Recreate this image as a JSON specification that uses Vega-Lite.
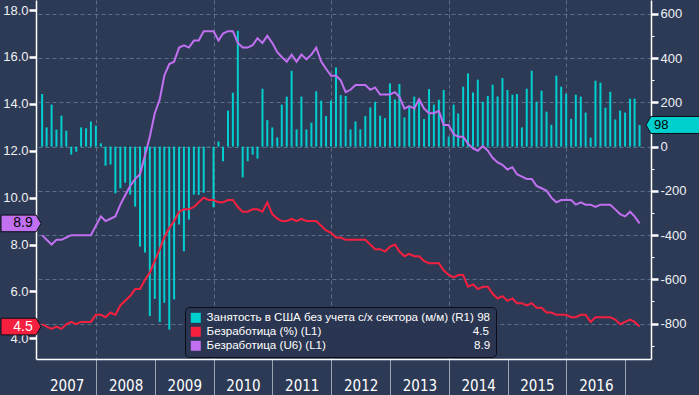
{
  "$schema": "https://vega.github.io/schema/vega-lite/v6.json",
  "width": 615,
  "height": 359,
  "autosize": {"type": "none"},
  "padding": {"left": 36, "top": 0, "right": 48, "bottom": 36},
  "background": "#2d3a55",
  "config": {
    "view": {"stroke": null},
    "axis": {"labelFont": "Liberation Sans", "labelFontSize": 13, "labelColor": "#eef0f4", "tickColor": "#ffffff", "domainColor": "#ffffff", "domainWidth": 1.5, "labelOverlap": false, "title": null}
  },
  "datasets": {
    "m": [
      {"date":"2007-01-31","nfp":238,"u3":4.6,"u6":8.4},
      {"date":"2007-02-28","nfp":87,"u3":4.5,"u6":8.2},
      {"date":"2007-03-31","nfp":190,"u3":4.4,"u6":8.0},
      {"date":"2007-04-30","nfp":77,"u3":4.5,"u6":8.2},
      {"date":"2007-05-31","nfp":140,"u3":4.4,"u6":8.2},
      {"date":"2007-06-30","nfp":72,"u3":4.6,"u6":8.3},
      {"date":"2007-07-31","nfp":-36,"u3":4.7,"u6":8.4},
      {"date":"2007-08-31","nfp":-23,"u3":4.6,"u6":8.4},
      {"date":"2007-09-30","nfp":87,"u3":4.7,"u6":8.4},
      {"date":"2007-10-31","nfp":83,"u3":4.7,"u6":8.4},
      {"date":"2007-11-30","nfp":114,"u3":4.7,"u6":8.4},
      {"date":"2007-12-31","nfp":95,"u3":5.0,"u6":8.8},
      {"date":"2008-01-31","nfp":15,"u3":5.0,"u6":9.2},
      {"date":"2008-02-29","nfp":-86,"u3":4.9,"u6":9.0},
      {"date":"2008-03-31","nfp":-81,"u3":5.1,"u6":9.1},
      {"date":"2008-04-30","nfp":-211,"u3":5.0,"u6":9.2},
      {"date":"2008-05-31","nfp":-188,"u3":5.4,"u6":9.7},
      {"date":"2008-06-30","nfp":-163,"u3":5.6,"u6":10.1},
      {"date":"2008-07-31","nfp":-217,"u3":5.8,"u6":10.5},
      {"date":"2008-08-31","nfp":-271,"u3":6.1,"u6":10.8},
      {"date":"2008-09-30","nfp":-452,"u3":6.1,"u6":11.0},
      {"date":"2008-10-31","nfp":-479,"u3":6.5,"u6":11.8},
      {"date":"2008-11-30","nfp":-766,"u3":6.8,"u6":12.6},
      {"date":"2008-12-31","nfp":-688,"u3":7.3,"u6":13.6},
      {"date":"2009-01-31","nfp":-793,"u3":7.8,"u6":14.2},
      {"date":"2009-02-28","nfp":-706,"u3":8.3,"u6":15.2},
      {"date":"2009-03-31","nfp":-827,"u3":8.7,"u6":15.7},
      {"date":"2009-04-30","nfp":-691,"u3":9.0,"u6":15.8},
      {"date":"2009-05-31","nfp":-352,"u3":9.4,"u6":16.4},
      {"date":"2009-06-30","nfp":-473,"u3":9.5,"u6":16.5},
      {"date":"2009-07-31","nfp":-330,"u3":9.5,"u6":16.4},
      {"date":"2009-08-31","nfp":-217,"u3":9.6,"u6":16.7},
      {"date":"2009-09-30","nfp":-218,"u3":9.8,"u6":16.7},
      {"date":"2009-10-31","nfp":-208,"u3":10.0,"u6":17.1},
      {"date":"2009-11-30","nfp":2,"u3":9.9,"u6":17.1},
      {"date":"2009-12-31","nfp":-274,"u3":9.9,"u6":17.1},
      {"date":"2010-01-31","nfp":23,"u3":9.8,"u6":16.7},
      {"date":"2010-02-28","nfp":-66,"u3":9.8,"u6":17.0},
      {"date":"2010-03-31","nfp":163,"u3":9.9,"u6":17.1},
      {"date":"2010-04-30","nfp":244,"u3":9.9,"u6":17.1},
      {"date":"2010-05-31","nfp":524,"u3":9.6,"u6":16.6},
      {"date":"2010-06-30","nfp":-139,"u3":9.4,"u6":16.4},
      {"date":"2010-07-31","nfp":-66,"u3":9.4,"u6":16.4},
      {"date":"2010-08-31","nfp":-36,"u3":9.5,"u6":16.5},
      {"date":"2010-09-30","nfp":-54,"u3":9.5,"u6":16.8},
      {"date":"2010-10-31","nfp":262,"u3":9.4,"u6":16.6},
      {"date":"2010-11-30","nfp":120,"u3":9.8,"u6":16.9},
      {"date":"2010-12-31","nfp":87,"u3":9.3,"u6":16.6},
      {"date":"2011-01-31","nfp":42,"u3":9.1,"u6":16.2},
      {"date":"2011-02-28","nfp":190,"u3":9.0,"u6":16.0},
      {"date":"2011-03-31","nfp":226,"u3":9.0,"u6":15.8},
      {"date":"2011-04-30","nfp":343,"u3":9.1,"u6":16.1},
      {"date":"2011-05-31","nfp":78,"u3":9.0,"u6":15.8},
      {"date":"2011-06-30","nfp":226,"u3":9.1,"u6":16.1},
      {"date":"2011-07-31","nfp":78,"u3":9.0,"u6":15.9},
      {"date":"2011-08-31","nfp":108,"u3":9.0,"u6":16.1},
      {"date":"2011-09-30","nfp":250,"u3":9.0,"u6":16.4},
      {"date":"2011-10-31","nfp":208,"u3":8.8,"u6":15.8},
      {"date":"2011-11-30","nfp":138,"u3":8.6,"u6":15.5},
      {"date":"2011-12-31","nfp":208,"u3":8.5,"u6":15.2},
      {"date":"2012-01-31","nfp":358,"u3":8.3,"u6":15.2},
      {"date":"2012-02-29","nfp":233,"u3":8.3,"u6":15.0},
      {"date":"2012-03-31","nfp":229,"u3":8.2,"u6":14.5},
      {"date":"2012-04-30","nfp":78,"u3":8.2,"u6":14.6},
      {"date":"2012-05-31","nfp":114,"u3":8.2,"u6":14.8},
      {"date":"2012-06-30","nfp":78,"u3":8.2,"u6":14.8},
      {"date":"2012-07-31","nfp":138,"u3":8.2,"u6":14.8},
      {"date":"2012-08-31","nfp":177,"u3":8.0,"u6":14.6},
      {"date":"2012-09-30","nfp":203,"u3":7.8,"u6":14.7},
      {"date":"2012-10-31","nfp":140,"u3":7.8,"u6":14.4},
      {"date":"2012-11-30","nfp":129,"u3":7.7,"u6":14.4},
      {"date":"2012-12-31","nfp":286,"u3":7.9,"u6":14.4},
      {"date":"2013-01-31","nfp":213,"u3":8.0,"u6":14.5},
      {"date":"2013-02-28","nfp":283,"u3":7.7,"u6":14.3},
      {"date":"2013-03-31","nfp":132,"u3":7.5,"u6":13.8},
      {"date":"2013-04-30","nfp":180,"u3":7.6,"u6":13.9},
      {"date":"2013-05-31","nfp":226,"u3":7.5,"u6":13.8},
      {"date":"2013-06-30","nfp":213,"u3":7.5,"u6":14.2},
      {"date":"2013-07-31","nfp":125,"u3":7.3,"u6":13.8},
      {"date":"2013-08-31","nfp":260,"u3":7.2,"u6":13.6},
      {"date":"2013-09-30","nfp":190,"u3":7.2,"u6":13.6},
      {"date":"2013-10-31","nfp":212,"u3":7.2,"u6":13.7},
      {"date":"2013-11-30","nfp":256,"u3":6.9,"u6":13.1},
      {"date":"2013-12-31","nfp":45,"u3":6.7,"u6":13.1},
      {"date":"2014-01-31","nfp":190,"u3":6.6,"u6":12.7},
      {"date":"2014-02-28","nfp":150,"u3":6.7,"u6":12.6},
      {"date":"2014-03-31","nfp":271,"u3":6.7,"u6":12.6},
      {"date":"2014-04-30","nfp":331,"u3":6.2,"u6":12.3},
      {"date":"2014-05-31","nfp":245,"u3":6.3,"u6":12.1},
      {"date":"2014-06-30","nfp":303,"u3":6.1,"u6":12.0},
      {"date":"2014-07-31","nfp":203,"u3":6.2,"u6":12.2},
      {"date":"2014-08-31","nfp":229,"u3":6.2,"u6":12.0},
      {"date":"2014-09-30","nfp":280,"u3":5.9,"u6":11.7},
      {"date":"2014-10-31","nfp":227,"u3":5.7,"u6":11.5},
      {"date":"2014-11-30","nfp":310,"u3":5.8,"u6":11.4},
      {"date":"2014-12-31","nfp":256,"u3":5.6,"u6":11.2},
      {"date":"2015-01-31","nfp":235,"u3":5.7,"u6":11.3},
      {"date":"2015-02-28","nfp":238,"u3":5.5,"u6":11.0},
      {"date":"2015-03-31","nfp":87,"u3":5.5,"u6":10.9},
      {"date":"2015-04-30","nfp":262,"u3":5.4,"u6":10.8},
      {"date":"2015-05-31","nfp":343,"u3":5.5,"u6":10.8},
      {"date":"2015-06-30","nfp":203,"u3":5.3,"u6":10.5},
      {"date":"2015-07-31","nfp":253,"u3":5.3,"u6":10.4},
      {"date":"2015-08-31","nfp":158,"u3":5.1,"u6":10.3},
      {"date":"2015-09-30","nfp":99,"u3":5.1,"u6":10.0},
      {"date":"2015-10-31","nfp":321,"u3":5.0,"u6":9.8},
      {"date":"2015-11-30","nfp":271,"u3":5.0,"u6":9.9},
      {"date":"2015-12-31","nfp":239,"u3":5.0,"u6":9.9},
      {"date":"2016-01-31","nfp":126,"u3":4.9,"u6":9.9},
      {"date":"2016-02-29","nfp":235,"u3":4.9,"u6":9.7},
      {"date":"2016-03-31","nfp":226,"u3":5.0,"u6":9.8},
      {"date":"2016-04-30","nfp":154,"u3":5.0,"u6":9.7},
      {"date":"2016-05-31","nfp":41,"u3":4.7,"u6":9.7},
      {"date":"2016-06-30","nfp":298,"u3":4.9,"u6":9.6},
      {"date":"2016-07-31","nfp":289,"u3":4.9,"u6":9.7},
      {"date":"2016-08-31","nfp":176,"u3":4.9,"u6":9.7},
      {"date":"2016-09-30","nfp":248,"u3":4.9,"u6":9.7},
      {"date":"2016-10-31","nfp":123,"u3":4.8,"u6":9.5},
      {"date":"2016-11-30","nfp":163,"u3":4.6,"u6":9.3},
      {"date":"2016-12-31","nfp":154,"u3":4.7,"u6":9.2},
      {"date":"2017-01-31","nfp":217,"u3":4.8,"u6":9.4},
      {"date":"2017-02-28","nfp":217,"u3":4.7,"u6":9.2},
      {"date":"2017-03-31","nfp":98,"u3":4.5,"u6":8.9}
    ]
  },
  "data": {"name": "m"},
  "encoding": {
    "x": {
      "field": "date", "type": "temporal",
      "scale": {"domain": [{"year": 2007, "month": 1, "date": 24}, {"year": 2017, "month": 5, "date": 10}]},
      "axis": {
        "values": [{"year":2008,"month":1,"date":1},{"year":2009,"month":1,"date":1},{"year":2010,"month":1,"date":1},{"year":2011,"month":1,"date":1},{"year":2012,"month":1,"date":1},{"year":2013,"month":1,"date":1},{"year":2014,"month":1,"date":1},{"year":2015,"month":1,"date":1},{"year":2016,"month":1,"date":1},{"year":2017,"month":1,"date":1}],
        "labelExpr": "'' + (year(datum.value) - 1)",
        "labelOffset": -29.4,
        "labelFont": "Liberation Sans Narrow, DejaVu Sans Condensed, sans-serif",
        "labelFontSize": 15,
        "labelColor": "#ffffff",
        "labelBaseline": "middle",
        "labelPadding": -10,
        "labelFlush": false,
        "tickSize": 36,
        "tickColor": "#9aa3b2",
        "tickWidth": 1,
        "grid": true,
        "gridColor": "#5a6f88",
        "gridDash": [4, 3],
        "gridOpacity": {"condition": {"test": "year(datum.value) % 2 == 0", "value": 1}, "value": 0}
      }
    }
  },
  "layer": [
    {
      "layer": [
        {
          "data": {"values": [{}]},
          "mark": {"type": "rect", "color": "#ffffff", "opacity": 0.128},
          "encoding": {
            "x": {"datum": {"year": 2006, "month": 1, "date": 1}, "type": "temporal"},
            "x2": {"datum": {"year": 2018, "month": 12, "date": 1}},
            "y": {"datum": 663, "type": "quantitative"},
            "y2": {"datum": 444}
          }
        },
        {
          "data": {"values": [{}]},
          "mark": {"type": "rect", "color": "#ffffff", "opacity": 0.068},
          "encoding": {
            "x": {"datum": {"year": 2006, "month": 1, "date": 1}, "type": "temporal"},
            "x2": {"datum": {"year": 2018, "month": 12, "date": 1}},
            "y": {"datum": 444, "type": "quantitative"},
            "y2": {"datum": -276}
          }
        },
        {
          "data": {"values": [{}]},
          "mark": {"type": "rect", "color": "#ffffff", "opacity": 0.027},
          "encoding": {
            "x": {"datum": {"year": 2006, "month": 1, "date": 1}, "type": "temporal"},
            "x2": {"datum": {"year": 2018, "month": 12, "date": 1}},
            "y": {"datum": -276, "type": "quantitative"},
            "y2": {"datum": -574}
          }
        },
        {
          "mark": {"type": "bar", "size": 2},
          "encoding": {
            "y": {
              "field": "nfp", "type": "quantitative",
              "scale": {"domain": [-960, 663], "nice": false, "zero": false},
              "axis": {
                "orient": "right",
                "values": [-800,-600,-400,-200,0,200,400,600],
                "labelExpr": "'' + datum.value",
                "labelAlign": "left",
                "tickSize": 7,
                "tickWidth": 2.5,
                "labelPadding": 2,
                "grid": true,
                "gridColor": "#5a6f88",
                "gridDash": [4, 3]
              }
            },
            "color": {
              "datum": "nfp",
              "scale": {"domain": ["nfp", "u3", "u6"], "range": ["#00cfd0", "#f5203f", "#c070f0"]},
              "legend": {
                "orient": "none",
                "legendX": 149,
                "legendY": 307,
                "title": null,
                "direction": "vertical",
                "symbolType": "square",
                "symbolSize": 100,
                "symbolStrokeWidth": 0,
                "symbolOpacity": 1,
                "labelFont": "Liberation Sans",
                "labelFontSize": 11.6,
                "labelColor": "#ffffff",
                "labelOffset": 5,
                "labelLimit": 0,
                "rowPadding": 1,
                "padding": 5,
                "fillColor": "#2a3651",
                "strokeColor": "#0a0d14",
                "cornerRadius": 4,
                "labelExpr": "datum.label == 'nfp' ? 'Занятость в США без учета с/х сектора (м/м) (R1)\u00a098' : datum.label == 'u3' ? 'Безработица (%) (L1)\u00a0\u00a0\u00a0\u00a0\u00a0\u00a0\u00a0\u00a0\u00a0\u00a0\u00a0\u00a0\u00a0\u00a0\u00a0\u00a0\u00a0\u00a0\u00a0\u00a0\u00a0\u00a0\u00a0\u00a0\u00a0\u00a0\u00a0\u00a0\u00a0\u00a0\u00a0\u00a0\u00a0\u00a0\u00a0\u00a0\u00a0\u00a0\u00a0\u00a0\u00a0\u00a0\u00a0\u00a0\u00a0\u00a0\u00a04.5' : 'Безработица (U6) (L1)\u00a0\u00a0\u00a0\u00a0\u00a0\u00a0\u00a0\u00a0\u00a0\u00a0\u00a0\u00a0\u00a0\u00a0\u00a0\u00a0\u00a0\u00a0\u00a0\u00a0\u00a0\u00a0\u00a0\u00a0\u00a0\u00a0\u00a0\u00a0\u00a0\u00a0\u00a0\u00a0\u00a0\u00a0\u00a0\u00a0\u00a0\u00a0\u00a0\u00a0\u00a0\u00a0\u00a0\u00a0\u00a0\u00a08.9'",
                "encode": {"symbols": {"update": {"fill": {"scale": "color", "field": "value"}, "stroke": {"value": "transparent"}, "shape": {"value": "square"}, "opacity": {"value": 1}}}}
              }
            }
          }
        },
        {
          "transform": [{"filter": {"field": "date", "gte": {"year": 2017, "month": 3, "date": 15}}}],
          "mark": {"type": "point", "shape": "M0,0L0.3,-0.53L3.5,-0.53L3.5,0.53L0.3,0.53Z", "size": 1024, "filled": true, "opacity": 1, "fill": "#00cfd0", "stroke": "#0a0d14", "strokeWidth": 1},
          "encoding": {
            "x": {"datum": {"year": 2017, "month": 5, "date": 10}, "type": "temporal"},
            "y": {"field": "nfp", "type": "quantitative"}
          }
        },
        {
          "transform": [{"filter": {"field": "date", "gte": {"year": 2017, "month": 3, "date": 15}}}],
          "mark": {"type": "text", "align": "left", "baseline": "middle", "dx": 8, "font": "Liberation Sans", "fontSize": 13, "color": "#000000"},
          "encoding": {
            "x": {"datum": {"year": 2017, "month": 5, "date": 10}, "type": "temporal"},
            "y": {"field": "nfp", "type": "quantitative"},
            "text": {"field": "nfp", "type": "quantitative", "format": "d"}
          }
        }
      ]
    },
    {
      "layer": [
        {
          "transform": [{"fold": ["u3", "u6"], "as": ["key", "value"]}],
          "mark": {"type": "line", "strokeWidth": 2},
          "encoding": {
            "y": {
              "field": "value", "type": "quantitative",
              "scale": {"domain": [3.117, 18.43], "nice": false, "zero": false},
              "axis": {
                "orient": "left",
                "values": [4,5,6,7,8,9,10,11,12,13,14,15,16,17,18],
                "labelExpr": "datum.value % 2 == 0 ? format(datum.value, '.1f') : ''",
                "tickSize": {"condition": {"test": "datum.value % 2 == 0", "value": 7}, "value": 3},
                "tickWidth": {"condition": {"test": "datum.value % 2 == 0", "value": 2.5}, "value": 1},
                "labelPadding": 1,
                "grid": false
              }
            },
            "color": {"field": "key", "type": "nominal", "legend": {"title": null}}
          }
        },
        {
          "transform": [{"filter": {"field": "date", "gte": {"year": 2017, "month": 3, "date": 15}}}, {"fold": ["u3", "u6"], "as": ["key", "value"]}],
          "mark": {"type": "point", "shape": "M0,0L-0.3,-0.52L-2.5,-0.52L-2.5,0.52L-0.3,0.52Z", "size": 1024, "filled": true, "opacity": 1, "stroke": "#0a0d14", "strokeWidth": 1},
          "encoding": {
            "x": {"datum": {"year": 2007, "month": 1, "date": 24}, "type": "temporal"},
            "y": {"field": "value", "type": "quantitative"},
            "color": {"field": "key", "type": "nominal", "legend": {"title": null}}
          }
        },
        {
          "transform": [{"filter": {"field": "date", "gte": {"year": 2017, "month": 3, "date": 15}}}, {"fold": ["u3", "u6"], "as": ["key", "value"]}],
          "mark": {"type": "text", "align": "center", "baseline": "middle", "dx": -18, "font": "Liberation Sans", "fontSize": 14},
          "encoding": {
            "x": {"datum": {"year": 2007, "month": 1, "date": 24}, "type": "temporal"},
            "y": {"field": "value", "type": "quantitative"},
            "text": {"field": "value", "type": "quantitative", "format": ".1f"},
            "color": {"condition": {"test": "datum.key == 'u3'", "value": "#ffffff"}, "value": "#000000"}
          }
        }
      ]
    },
    {
      "data": {"values": [{}]},
      "mark": {"type": "point", "opacity": 0},
      "encoding": {
        "x": {"datum": {"year": 2010, "month": 1, "date": 1}, "type": "temporal"},
        "y": {
          "datum": 0, "type": "quantitative",
          "scale": {"domain": [-960, 663], "nice": false, "zero": false},
          "axis": {
            "orient": "right",
            "values": [-900,-700,-500,-300,-100,100,300,500],
            "labels": false,
            "domain": false,
            "grid": false,
            "tickSize": 3,
            "tickWidth": 1,
            "minExtent": 0,
            "maxExtent": 0
          }
        }
      }
    }
  ],
  "resolve": {"scale": {"y": "independent"}}
}
